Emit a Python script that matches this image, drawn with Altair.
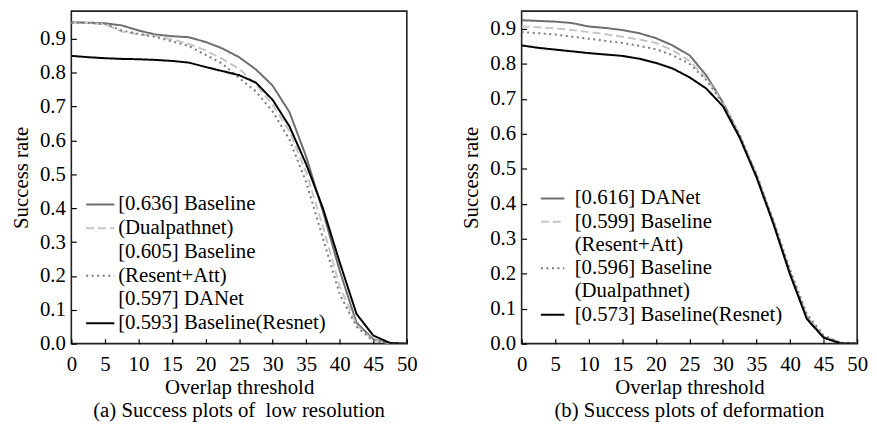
import altair as alt
import pandas as pd

# ---------------- data ----------------
thresholds = [0, 2.5, 5, 7.5, 10, 12.5, 15, 17.5, 20, 22.5, 25,
              27.5, 30, 32.5, 35, 37.5, 40, 42.5, 45, 47.5, 50]

# (a) low resolution — legend rows as printed in the figure
left_rows = ["[0.636] Baseline", "(Dualpathnet)", "[0.605] Baseline",
             "(Resent+Att)", "[0.597] DANet", "[0.593] Baseline(Resnet)"]
left_solid_gray = [0.949, 0.948, 0.946, 0.940, 0.925, 0.913, 0.908, 0.905, 0.891, 0.872, 0.846,
                   0.810, 0.762, 0.684, 0.552, 0.390, 0.215, 0.062, 0.013, 0.000, 0.000]
left_dashed = [0.947, 0.947, 0.944, 0.922, 0.914, 0.909, 0.899, 0.885, 0.866, 0.841, 0.812,
               0.766, 0.705, 0.628, 0.506, 0.345, 0.170, 0.055, 0.010, 0.000, 0.000]
left_dotted = [0.948, 0.947, 0.944, 0.925, 0.915, 0.906, 0.893, 0.879, 0.853, 0.827, 0.785,
               0.745, 0.686, 0.603, 0.477, 0.311, 0.146, 0.050, 0.008, 0.000, 0.000]
left_black = [0.850, 0.846, 0.843, 0.841, 0.840, 0.838, 0.835, 0.830, 0.817, 0.805, 0.793,
              0.771, 0.720, 0.642, 0.530, 0.400, 0.240, 0.088, 0.024, 0.002, 0.000]

# (b) deformation
right_rows = ["[0.616] DANet", "[0.599] Baseline", "(Resent+Att)",
              "[0.596] Baseline", "(Dualpathnet)", "[0.573] Baseline(Resnet)"]
right_solid_gray = [0.925, 0.923, 0.921, 0.917, 0.907, 0.903, 0.897, 0.888, 0.874, 0.853, 0.825,
                    0.768, 0.690, 0.594, 0.481, 0.349, 0.203, 0.075, 0.019, 0.002, 0.000]
right_dashed = [0.907, 0.905, 0.902, 0.897, 0.891, 0.885, 0.878, 0.870, 0.860, 0.839, 0.809,
                0.759, 0.690, 0.594, 0.481, 0.349, 0.205, 0.080, 0.021, 0.002, 0.000]
right_dotted = [0.891, 0.888, 0.884, 0.878, 0.872, 0.866, 0.860, 0.852, 0.842, 0.825, 0.801,
                0.754, 0.688, 0.596, 0.485, 0.353, 0.212, 0.085, 0.024, 0.003, 0.000]
right_black = [0.853, 0.846, 0.841, 0.836, 0.831, 0.827, 0.823, 0.815, 0.803, 0.787, 0.762,
               0.730, 0.679, 0.589, 0.476, 0.344, 0.198, 0.071, 0.017, 0.001, 0.000]

x_ticks = [0, 5, 10, 15, 20, 25, 30, 35, 40, 45, 50]
y_ticks = [0.0, 0.1, 0.2, 0.3, 0.4, 0.5, 0.6, 0.7, 0.8, 0.9]

captions = ["(a) Success plots of \u00a0low resolution", "(b) Success plots of deformation"]

# ---------------- styles ----------------
FONT = "Liberation Serif, Times New Roman, serif"
FS = 21
GRAY = "#6e6e6e"
LIGHT = "#c6c6c6"
DOT = "#7a7a7a"
SOLID = [1, 0]
DASH = [8, 4]
DOTS = [2, 3.6]

left_colors = [GRAY, LIGHT, "transparent", DOT, "transparent", "black"]
left_dashes = [SOLID, DASH, SOLID, DOTS, SOLID, SOLID]
right_colors = [GRAY, LIGHT, "transparent", DOT, "transparent", "black"]
right_dashes = [SOLID, DASH, SOLID, DOTS, SOLID, SOLID]


def long_df(series):
    recs = []
    for name, vals in series:
        for x, y in zip(thresholds, vals):
            recs.append({"x": x, "y": y, "series": name})
    return pd.DataFrame(recs)


left_df = long_df([(left_rows[0], left_solid_gray), (left_rows[1], left_dashed),
                   (left_rows[3], left_dotted), (left_rows[5], left_black)])
right_df = long_df([(right_rows[0], right_solid_gray), (right_rows[1], right_dashed),
                    (right_rows[3], right_dotted), (right_rows[5], right_black)])


def panel(df, rows, colors, dashes, ymax, caption, lx, ly, sym, loff, rpad):
    xaxis = alt.Axis(values=x_ticks, offset=-5, tickSize=5, domain=False, grid=False,
                     labelPadding=10, labelFont=FONT, labelFontSize=FS, labelColor="black",
                     tickColor="black", tickWidth=1.2, labelFlush=False,
                     titleFont=FONT, titleFontSize=FS, titleFontWeight="normal",
                     titleColor="black", titlePadding=2)
    yaxis = alt.Axis(values=y_ticks, format=".1f", offset=-5, tickSize=5, domain=False,
                     grid=False, labelPadding=6, labelFont=FONT, labelFontSize=FS,
                     labelColor="black", tickColor="black", tickWidth=1.2,
                     titleFont=FONT, titleFontSize=FS, titleFontWeight="normal",
                     titleColor="black", titlePadding=8)
    leg = alt.Legend(orient="none", legendX=lx, legendY=ly, title=None, padding=0,
                     symbolType=sym, symbolSize=361, symbolStrokeWidth=2,
                     labelFont=FONT, labelFontSize=FS, labelColor="black",
                     labelOffset=loff, rowPadding=rpad, labelLimit=500)
    return alt.Chart(df).mark_line(strokeWidth=2, clip=True).encode(
        x=alt.X("x:Q", scale=alt.Scale(domain=[0, 50], nice=False), axis=xaxis,
                title="Overlap threshold"),
        y=alt.Y("y:Q", scale=alt.Scale(domain=[0, ymax], nice=False, zero=False), axis=yaxis,
                title="Success rate"),
        color=alt.Color("series:N", scale=alt.Scale(domain=rows, range=colors), legend=leg),
        strokeDash=alt.StrokeDash("series:N", scale=alt.Scale(domain=rows, range=dashes),
                                  legend=leg),
    ).properties(
        width=339, height=336,
        title=alt.TitleParams(caption, orient="bottom", font=FONT, fontSize=FS,
                              fontWeight="normal", color="black", offset=3, anchor="middle"),
    )


left = panel(left_df, left_rows, left_colors, left_dashes, 0.982, captions[0],
             18.7, 184.8, "M-1.5,0H1.5", 7.6, 2.0)
right = panel(right_df, right_rows, right_colors, right_dashes, 0.951, captions[1],
              20.8, 178.8, "M-1.25,0H1.25", 11.8, 1.5)

chart = alt.hconcat(left, right, spacing=116, bounds="flush").resolve_scale(
    x="independent", y="independent", color="independent", strokeDash="independent"
).resolve_legend(color="independent", strokeDash="independent").configure_view(
    stroke="#222222", strokeWidth=1.6
).properties(padding={"left": 1, "top": 0, "right": 0, "bottom": 0})

chart.save("out.html", embed_options={"renderer": "svg", "actions": False})
